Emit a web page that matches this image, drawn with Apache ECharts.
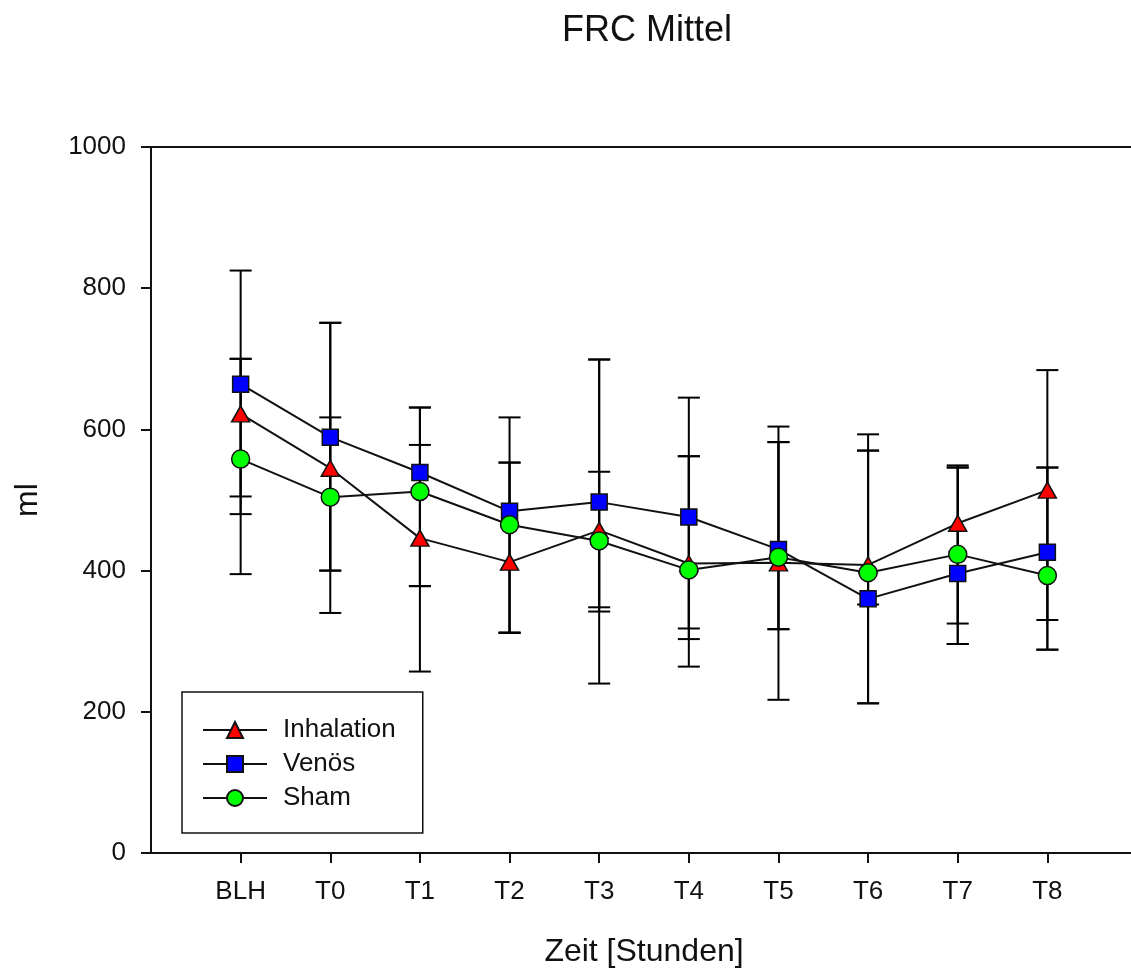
<!DOCTYPE html>
<html>
<head>
<meta charset="utf-8">
<script src="https://cdn.jsdelivr.net/npm/echarts@6/dist/echarts.min.js"></script>
<style>
  html, body { margin: 0; padding: 0; background: #fff; }
  #chart { width: 1131px; height: 968px; }
</style>
</head>
<body>
<div id="chart"></div>
<script>
// Zeitpunkte
var categories = ['BLH', 'T0', 'T1', 'T2', 'T3', 'T4', 'T5', 'T6', 'T7', 'T8'];
var yTicks = [0, 200, 400, 600, 800, 1000];

// Mittelwerte (ml)
var inhalation = [622, 545, 446, 412, 457, 410, 411, 408, 467, 514];
var venoes     = [664, 589, 539, 484, 497, 476, 430, 360, 396, 426];
var sham       = [558, 504, 512, 465, 442, 401, 419, 397, 423, 393];

// Fehlerbalken, untere / obere Enden (ml)
var inhalationLow  = [395, 340, 257, 312, 240, 264, 217, 212, 296, 330];
var inhalationHigh = [700, 751, 631, 553, 699, 562, 604, 593, 549, 684];
var venoesLow      = [505, 400, 378, 312, 348, 303, 317, 352, 325, 288];
var venoesHigh     = [825, 751, 631, 617, 699, 645, 582, 570, 546, 546];
var shamLow        = [480, 400, 378, 312, 342, 318, 317, 212, 296, 288];
var shamHigh       = [700, 617, 578, 553, 540, 562, 582, 570, 546, 546];

var FONT = '"Liberation Sans", Arial, sans-serif';

// leere Randkategorien, damit BLH und T8 Abstand zum Rahmen haben
var xData = [''].concat(categories).concat(['']);

function points(vals) {
    return vals.map(function (v, i) { return [i + 1, v]; });
}
function bars(lo, hi) {
    return lo.map(function (v, i) { return [i + 1, v, hi[i]]; });
}

function renderErr(params, api) {
    var x = api.value(0);
    var top = api.coord([x, api.value(2)]);
    var bot = api.coord([x, api.value(1)]);
    var w = 11;
    var st = { stroke: '#000', lineWidth: 2 };
    return {
        type: 'group',
        children: [
            { type: 'line', shape: { x1: top[0], y1: top[1], x2: bot[0], y2: bot[1] }, style: st },
            { type: 'line', shape: { x1: top[0] - w, y1: top[1], x2: top[0] + w, y2: top[1] }, style: st },
            { type: 'line', shape: { x1: bot[0] - w, y1: bot[1], x2: bot[0] + w, y2: bot[1] }, style: st }
        ]
    };
}

function errSeries(lo, hi) {
    return {
        type: 'custom',
        renderItem: renderErr,
        data: bars(lo, hi),
        encode: { x: 0, y: [1, 2] },
        z: 1,
        silent: true
    };
}

function lineSeries(name, vals, symbol, size, color) {
    return {
        name: name,
        type: 'line',
        data: points(vals),
        symbol: symbol,
        symbolSize: size,
        z: 3,
        lineStyle: { color: '#111', width: 2 },
        itemStyle: { color: color, borderColor: '#111', borderWidth: 1.5 }
    };
}

var myChart = echarts.init(document.getElementById('chart'));
var option = {
    animation: false,
    backgroundColor: '#fff',
    title: {
        text: 'FRC Mittel',
        left: 557,
        top: 8,
        textStyle: { fontFamily: FONT, fontSize: 36, fontWeight: 'normal', color: '#111' }
    },
    legend: {
        orient: 'vertical',
        left: 182,
        top: 692,
        data: ['Inhalation', 'Venös', 'Sham'],
        padding: [25, 27, 22, 20],
        itemWidth: 64,
        itemHeight: 20,
        itemGap: 8,
        borderColor: '#111',
        borderWidth: 1.5,
        backgroundColor: '#fff',
        textStyle: {
            fontFamily: FONT,
            fontSize: 26,
            color: '#111',
            padding: [0, 0, 0, 11]
        }
    },
    grid: {
        left: 151,
        top: 147,
        bottom: 115,
        right: -6,
        outerBoundsMode: 'none',
        containLabel: false,
        show: true,
        borderColor: '#111',
        borderWidth: 2
    },
    xAxis: {
        type: 'category',
        data: xData,
        boundaryGap: false,
        name: 'Zeit [Stunden]',
        nameLocation: 'middle',
        nameGap: 83,
        nameTextStyle: { fontFamily: FONT, fontSize: 32, color: '#111' },
        axisLine: { lineStyle: { color: '#111', width: 2 } },
        axisTick: {
            length: 10,
            lineStyle: { color: '#111', width: 2 },
            interval: function (idx) { return idx > 0 && idx < xData.length - 1; }
        },
        axisLabel: {
            fontFamily: FONT,
            fontSize: 26,
            color: '#111',
            margin: 26,
            interval: 0
        },
        splitLine: { show: false }
    },
    yAxis: {
        type: 'value',
        min: yTicks[0],
        max: yTicks[yTicks.length - 1],
        interval: 200,
        name: 'ml',
        nameLocation: 'middle',
        nameGap: 107,
        nameRotate: 90,
        nameTextStyle: { fontFamily: FONT, fontSize: 32, color: '#111' },
        axisLine: { show: true, lineStyle: { color: '#111', width: 2 } },
        axisTick: { show: true, length: 10, lineStyle: { color: '#111', width: 2 } },
        axisLabel: {
            fontFamily: FONT,
            fontSize: 26,
            color: '#111',
            margin: 25,
            formatter: function (v) { return String(v); }
        },
        splitLine: { show: false }
    },
    series: [
        errSeries(inhalationLow, inhalationHigh),
        errSeries(venoesLow, venoesHigh),
        errSeries(shamLow, shamHigh),
        lineSeries('Inhalation', inhalation, 'triangle', [18, 16], '#ff0000'),
        lineSeries('Venös', venoes, 'rect', 16, '#0000ff'),
        lineSeries('Sham', sham, 'circle', 18, '#00ff00')
    ]
};
myChart.setOption(option);
</script>
</body>
</html>
